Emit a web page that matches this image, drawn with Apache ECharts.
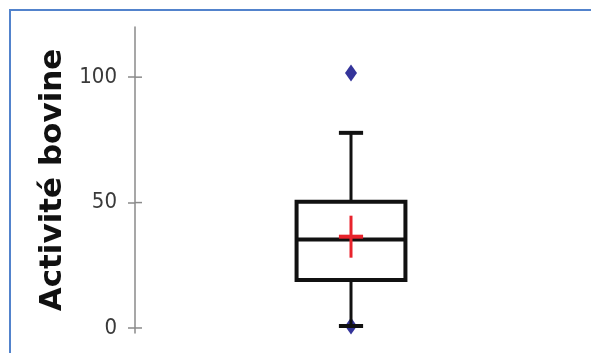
<!DOCTYPE html>
<html>
<head>
<meta charset="utf-8">
<script src="https://cdn.jsdelivr.net/npm/echarts@6/dist/echarts.min.js"></script>
<style>
  html, body { margin: 0; padding: 0; background: #fff; }
  #chart { width: 591px; height: 353px; }
</style>
</head>
<body>
<div id="chart"></div>
<script>
// données
const categories = ['Activité bovine'];
const whiskerLow = [0.8];
const q1 = [19.1];
const median = [35.3];
const q3 = [50.3];
const whiskerHigh = [77.8];
const mean = [36.4];
const minMax = [0.8, 101.7];
const yTicks = [0, 50, 100];

const myChart = echarts.init(document.getElementById('chart'));

const boxData = categories.map((c, i) => [i, whiskerLow[i], q1[i], median[i], q3[i], whiskerHigh[i], mean[i]]);

function renderBox(params, api) {
  const idx = api.value(0);
  const band = api.size([1, 0])[0];
  const boxHalf = band * 0.126;
  const capHalf = band * 0.028;
  const p = (v) => api.coord([idx, v]);
  const lo = p(api.value(1)), b1 = p(api.value(2)), md = p(api.value(3));
  const b3 = p(api.value(4)), hi = p(api.value(5)), mn = p(api.value(6));
  const cx = lo[0];
  const black = { stroke: '#111', fill: null };
  return {
    type: 'group',
    children: [
      // moustaches
      { type: 'line', shape: { x1: cx, y1: b3[1], x2: cx, y2: hi[1] }, style: { ...black, lineWidth: 3 } },
      { type: 'line', shape: { x1: cx, y1: b1[1], x2: cx, y2: lo[1] }, style: { ...black, lineWidth: 3 } },
      { type: 'line', shape: { x1: cx - capHalf, y1: hi[1], x2: cx + capHalf, y2: hi[1] }, style: { ...black, lineWidth: 4 } },
      { type: 'line', shape: { x1: cx - capHalf, y1: lo[1], x2: cx + capHalf, y2: lo[1] }, style: { ...black, lineWidth: 4 } },
      // boîte
      { type: 'rect', shape: { x: cx - boxHalf, y: b3[1], width: boxHalf * 2, height: b1[1] - b3[1] }, style: { stroke: '#111', fill: '#fff', lineWidth: 4 } },
      { type: 'line', shape: { x1: cx - boxHalf, y1: md[1], x2: cx + boxHalf, y2: md[1] }, style: { ...black, lineWidth: 4 } },
      // moyenne
      { type: 'line', shape: { x1: cx - capHalf, y1: mn[1], x2: cx + capHalf, y2: mn[1] }, style: { stroke: '#e8232c', lineWidth: 4 } },
      { type: 'line', shape: { x1: cx, y1: mn[1] - 21, x2: cx, y2: mn[1] + 21 }, style: { stroke: '#e8232c', lineWidth: 3 } }
    ]
  };
}

// partie intérieure des graduations (l'axe ne dessine que l'extérieur)
function renderInnerTick(params, api) {
  const pt = api.coord([0, api.value(1)]);
  const axisX = pt[0] - api.size([1, 0])[0] / 2;
  return {
    type: 'line',
    shape: { x1: axisX, y1: pt[1], x2: axisX + 7, y2: pt[1] },
    style: { stroke: '#8a8a8a', lineWidth: 1.5 }
  };
}

const option = {
  animation: false,
  backgroundColor: '#fff',
  graphic: [{
    type: 'rect',
    shape: { x: 10, y: 10, width: 620, height: 400 },
    style: { fill: null, stroke: '#5283cc', lineWidth: 2 },
    silent: true
  }],
  grid: { left: 135, right: 24, top: 27, bottom: 20 },
  xAxis: {
    type: 'category',
    data: categories,
    boundaryGap: true,
    show: false
  },
  yAxis: {
    type: 'value',
    min: -2,
    max: 120,
    name: 'Activité bovine',
    nameLocation: 'middle',
    nameGap: 55,
    nameTextStyle: {
      fontFamily: 'DejaVu Sans',
      fontWeight: 'bold',
      fontSize: 31,
      color: '#111'
    },
    axisLine: { show: true, lineStyle: { color: '#8a8a8a', width: 1.5 } },
    axisTick: { show: true, length: 7, customValues: yTicks, lineStyle: { color: '#8a8a8a', width: 1.5 } },
    axisLabel: {
      customValues: yTicks,
      margin: 18,
      fontFamily: "'Liberation Sans Narrow', 'DejaVu Sans Condensed', sans-serif",
      fontSize: 22,
      color: '#3a3a3a'
    },
    splitLine: { show: false }
  },
  series: [{
    type: 'custom',
    data: yTicks.map(v => [0, v]),
    renderItem: renderInnerTick,
    silent: true,
    z: 3
  }, {
    type: 'scatter',
    data: minMax.map(v => [0, v]),
    symbol: 'diamond',
    symbolSize: [12, 17],
    itemStyle: { color: '#34349a', opacity: 1 },
    z: 1
  }, {
    type: 'custom',
    data: boxData,
    renderItem: renderBox,
    z: 2
  }]
};

myChart.setOption(option);
</script>
</body>
</html>
